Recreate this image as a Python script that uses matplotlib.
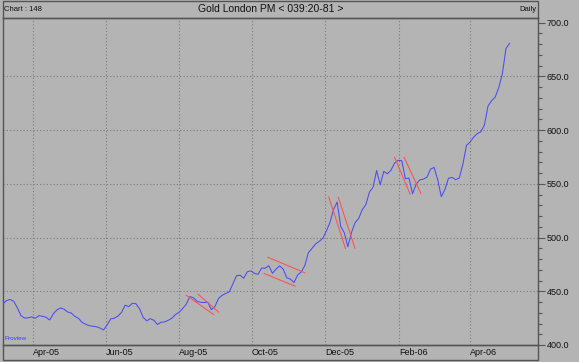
import numpy as np
import pandas as pd
import matplotlib
matplotlib.use("Agg")
import matplotlib.pyplot as plt
from matplotlib.patches import Rectangle
from matplotlib.ticker import MultipleLocator, FuncFormatter

plt.rcParams['font.family'] = ['Liberation Sans', 'DejaVu Sans']

# ---- data -------------------------------------------------------------
start_date = "2005-03-07"
step = "3D"
prices = [
    438.5, 441.3, 442.4, 440.6, 434.5, 427.3, 425.1, 425.3, 426.1, 424.9,
    427.3, 426.7, 425.8, 423.2, 429.0, 432.6, 434.5, 433.3, 430.7, 429.7,
    426.6, 424.9, 421.1, 419.3, 418.0, 417.4, 417.0, 415.8, 414.0, 418.8,
    424.4, 424.9, 426.9, 430.4, 437.0, 435.7, 438.8, 438.4, 433.7, 425.8,
    422.5, 424.5, 423.0, 419.1, 421.2, 421.5, 423.0, 424.9, 428.3, 430.4,
    433.9, 437.9, 445.1, 443.9, 440.7, 439.7, 439.5, 439.8, 432.8, 435.8,
    443.4, 446.2, 447.8, 449.5, 457.0, 464.5, 464.9, 462.1, 468.1, 469.0,
    466.6, 465.8, 471.6, 471.4, 473.8, 466.7, 470.5, 473.6, 470.5, 462.4,
    461.3, 458.1, 465.1, 467.9, 473.7, 485.9, 489.8, 494.0, 496.3, 499.2,
    505.9, 514.0, 526.0, 533.0, 510.4, 504.4, 491.4, 504.7, 513.8, 517.7,
    525.9, 530.6, 542.2, 546.8, 562.3, 549.0, 561.5, 559.3, 562.7, 569.2,
    571.8, 571.4, 554.7, 555.3, 540.8, 549.6, 553.6, 554.3, 556.1, 563.6,
    565.2, 553.7, 538.0, 544.7, 555.1, 555.9, 553.8, 555.3, 568.1, 585.7,
    588.7, 593.4, 596.6, 598.3, 604.6, 622.3, 627.2, 630.6, 639.5, 652.5,
    675.8, 680.6,
]

# red channel (trend) lines: start date, end date, start price, end price
trend_start = ["2005-08-07", "2005-08-17", "2005-10-14", "2005-10-11",
               "2005-12-04", "2005-12-12", "2006-01-28", "2006-02-05"]
trend_end = ["2005-08-30", "2005-09-03", "2005-11-14", "2005-11-06",
             "2005-12-18", "2005-12-26", "2006-02-10", "2006-02-19"]
trend_p0 = [446.3, 447.2, 481.7, 466.5, 537.8, 537.2, 574.5, 574.5]
trend_p1 = [428.3, 430.7, 467.2, 454.7, 489.8, 489.8, 540.3, 540.9]

tick_dates = ["2005-04-01", "2005-06-01", "2005-08-01", "2005-10-01",
              "2005-12-01", "2006-02-01", "2006-04-01"]
tick_labels = ["Apr-05", "Jun-05", "Aug-05", "Oct-05", "Dec-05", "Feb-06", "Apr-06"]

title = "Gold London PM < 039:20-81 >"
left_label = "Chart : 148"
right_label = "Daily"

# ---- figure -----------------------------------------------------------
W, H = 579, 362
BG = "#b4b4b4"
FRAME = "#555555"
fig = plt.figure(figsize=(W / 100, H / 100), dpi=100, facecolor=BG)

def fx(px):
    return px / W

def fy(py):
    return 1 - py / H

ax_l, ax_r, ax_t, ax_b = 3, 538.3, 18, 345
ax = fig.add_axes([fx(ax_l), fy(ax_b), fx(ax_r) - fx(ax_l), fy(ax_t) - fy(ax_b)])
ax.set_facecolor(BG)

dates = pd.date_range(start_date, periods=len(prices), freq=step)
ax.plot(dates, prices, color="#4b4bf5", lw=0.75, zorder=3)

for d0, d1, p0, p1 in zip(trend_start, trend_end, trend_p0, trend_p1):
    ax.plot(pd.to_datetime([d0, d1]), [p0, p1], color="#ff5050", lw=0.75, zorder=4)

ax.set_xlim(pd.Timestamp("2005-03-07"), pd.Timestamp("2006-05-28"))
ax.set_ylim(400, 704.2)

# grid
for d in tick_dates:
    ax.axvline(pd.Timestamp(d), color="#7a7a7a", lw=0.8, ls=(0, (1, 2)), zorder=1)
for v in [450, 500, 550, 600, 650]:
    ax.axhline(v, color="#7a7a7a", lw=0.8, ls=(0, (1, 2)), zorder=1)

# x ticks
ax.set_xticks(pd.to_datetime(tick_dates))
ax.set_xticklabels(tick_labels, ha="left", fontsize=6.5, color="#111111")
ax.tick_params(axis="x", length=0, pad=2)

# y ticks on right
ax.yaxis.tick_right()
ax.yaxis.set_major_locator(MultipleLocator(50))
ax.yaxis.set_minor_locator(MultipleLocator(10))
ax.yaxis.set_major_formatter(FuncFormatter(lambda v, p: f"{v:.1f}"))
ax.tick_params(axis="y", which="major", length=5, width=0.8, color=FRAME,
               labelsize=6.5, labelcolor="#111111", pad=1)
ax.tick_params(axis="y", which="minor", length=3, width=0.8, color=FRAME)

for s in ax.spines.values():
    s.set_color(FRAME)
    s.set_linewidth(1.0)

ax.text(0.003, 0.012, "Proview", transform=ax.transAxes, fontsize=4.5,
        color="#3c3cff", ha="left", va="bottom")

# header band
fig.add_artist(Rectangle((fx(3), fy(18)), fx(538.3) - fx(3), fy(1) - fy(18),
                         transform=fig.transFigure, fill=False, edgecolor=FRAME, lw=1.0))
fig.text(fx(4), fy(9.5), left_label, fontsize=5.5, ha="left", va="center", color="#111111")
fig.text(fx(271), fy(9.5), title, fontsize=7.5, ha="center", va="center", color="#111111")
fig.text(fx(536.5), fy(9.5), right_label, fontsize=5.5, ha="right", va="center", color="#111111")

# bottom label band
fig.add_artist(Rectangle((fx(3), fy(360)), fx(538.3) - fx(3), fy(345) - fy(360),
                         transform=fig.transFigure, fill=False, edgecolor=FRAME, lw=1.0))

fig.savefig("out.png", dpi=100, facecolor=BG)
